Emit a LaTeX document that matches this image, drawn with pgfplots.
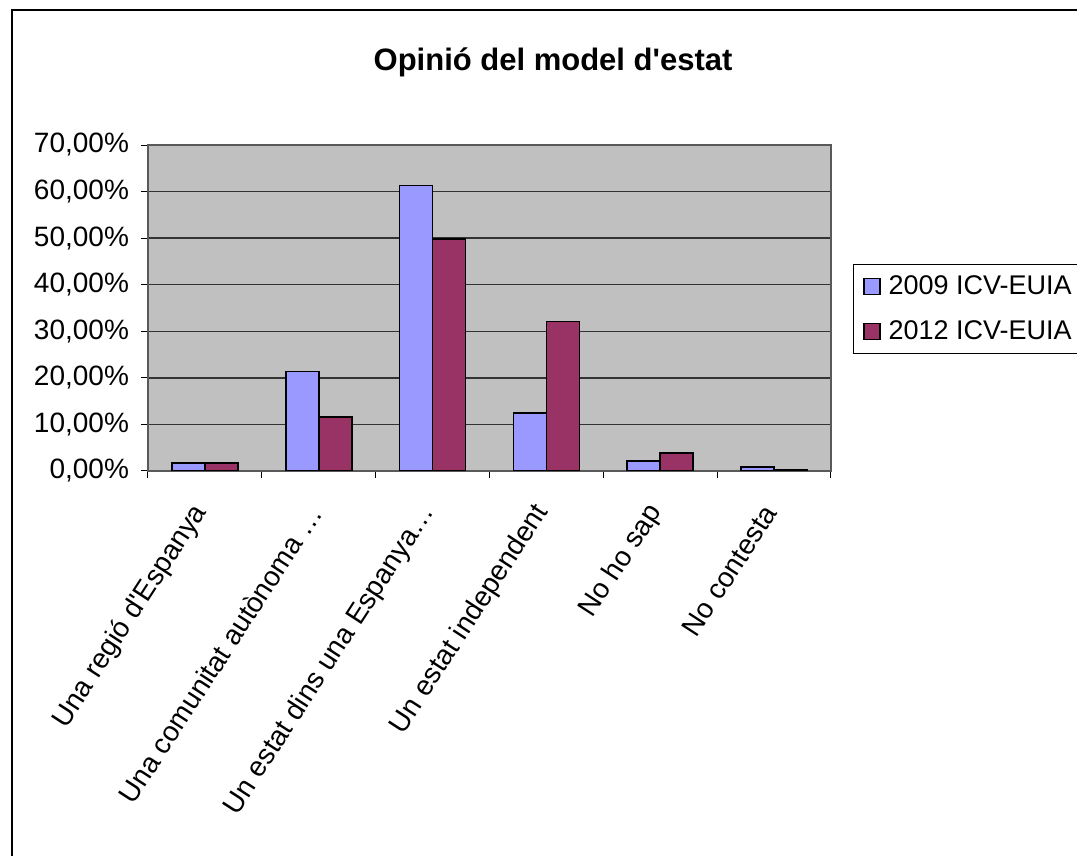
\documentclass[border=0pt]{standalone}
\usepackage{pgfplots}
\pgfplotsset{compat=1.18}
\usepackage{fontspec}
\setmainfont{Liberation Sans}[Ligatures=TeXOff]
\definecolor{serA}{HTML}{9999FF}
\definecolor{serB}{HTML}{993366}
\definecolor{plotbg}{HTML}{C0C0C0}
\begin{document}
\begin{tikzpicture}
% page = 1077 x 856 px, 1 px = 0.5pt
\useasboundingbox (0,0) rectangle (538.5pt,428pt);
\draw[line width=1.3pt] (6pt,-5pt) -- (6pt,423pt) -- (560pt,423pt);
\node[font=\fontsize{15.5}{18}\selectfont\bfseries] at (276.5pt,397pt) {Opinió del model d'estat};
\begin{axis}[
    at={(74pt,192.5pt)}, anchor=south west,
    scale only axis,
    width=341.5pt, height=163pt,
    axis background/.style={fill=plotbg},
    axis line style={draw=gray!70!black, line width=0.6pt},
    ybar=0pt,
    bar width=16.5pt,
    xmin=-0.5, xmax=5.5,
    ymin=0, ymax=70,
    xtick={0,...,5},
    xticklabels={{Una regió d'Espanya}, {Una comunitat autònoma \ldots}, {Un estat dins una Espanya\ldots}, {Un estat independent}, {No ho sap}, {No contesta}},
    minor xtick={-0.5,0.5,...,5.5},
    ytick={0,10,...,70},
    major x tick style={draw=none},
    tick align=outside,
    tick pos=left,
    major tick length=3.5pt,
    minor tick length=3.5pt,
    tick style={black, line width=0.5pt},
    ymajorgrids=true,
    grid style={black!80, line width=0.7pt},
    /pgf/number format/assume math mode=true,
    yticklabel={\pgfmathprintnumber[fixed,fixed zerofill,precision=2,use comma]{\tick}\%},
    yticklabel style={font=\fontsize{14}{16}\selectfont, xshift=-2.5pt},
    xticklabel style={font=\fontsize{14}{17}\selectfont, rotate=57, anchor=east},
    xticklabel shift=12pt,
    legend style={at={(1.0322,0.635)}, anchor=north west, draw=black, fill=white,
        font=\fontsize{13.5}{16}\selectfont, inner xsep=5pt, inner ysep=3.5pt,
        row sep=7.5pt, cells={anchor=west},
        /tikz/every odd column/.append style={column sep=2pt}},
    legend image code/.code={\draw[#1, draw=black, line width=0.6pt] (0pt,-4pt) rectangle (8pt,4pt);},
]
\addplot[fill=serA, draw=black, line width=0.8pt] coordinates {(0,1.7) (1,21.4) (2,61.3) (3,12.4) (4,2.1) (5,0.8)};
\addplot[fill=serB, draw=black, line width=0.8pt] coordinates {(0,1.7) (1,11.6) (2,49.8) (3,32.1) (4,3.9) (5,0.3)};
\legend{2009 ICV-EUIA, 2012 ICV-EUIA}
\end{axis}
\end{tikzpicture}
\end{document}
